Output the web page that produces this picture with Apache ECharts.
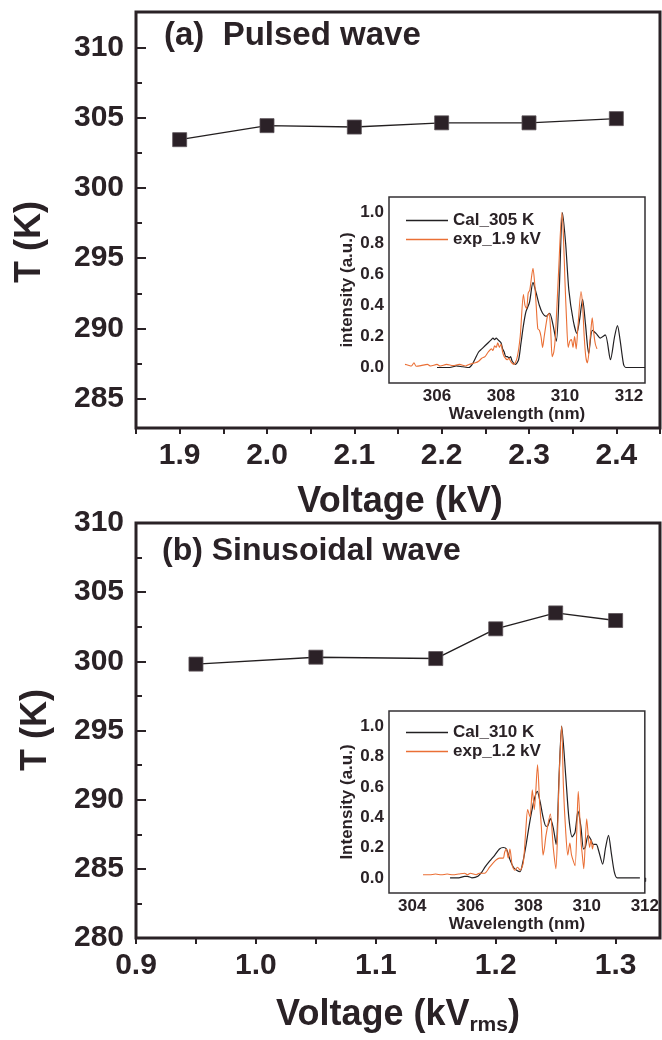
<!DOCTYPE html>
<html>
<head>
<meta charset="utf-8">
<script src="https://cdn.jsdelivr.net/npm/echarts@6/dist/echarts.min.js"></script>
<style>
  html, body { margin: 0; padding: 0; background: #fff; }
  #chart { width: 662px; height: 1040px; }
</style>
</head>
<body>
<div id="chart"></div>
<script>
// ---- Panel (a): pulsed wave, rotational temperature vs voltage ----
const voltA = [1.9, 2.0, 2.1, 2.2, 2.3, 2.4];
const tempA = [303.45, 304.45, 304.35, 304.65, 304.65, 304.95];
const xLabelsA = [1.9, 2.0, 2.1, 2.2, 2.3, 2.4];
const xTicksA = [1.85, 1.9, 1.95, 2.0, 2.05, 2.1, 2.15, 2.2, 2.25, 2.3, 2.35, 2.4, 2.45];
const yLabelsA = [285, 290, 295, 300, 305, 310];
const yMinorA = [287.5, 292.5, 297.5, 302.5, 307.5];

// ---- Panel (b): sinusoidal wave ----
const voltB = [0.95, 1.05, 1.15, 1.2, 1.25, 1.3];
const tempB = [299.8, 300.3, 300.2, 302.35, 303.5, 302.95];
const xLabelsB = [0.9, 1.0, 1.1, 1.2, 1.3];
const xTicksB = [0.9, 0.95, 1.0, 1.05, 1.1, 1.15, 1.2, 1.25, 1.3];
const yLabelsB = [280, 285, 290, 295, 300, 305, 310];
const yMinorB = [282.5, 287.5, 292.5, 297.5, 302.5, 307.5];

// ---- Inset spectra (wavelength nm, normalised intensity) ----
const calA = [[306.0,0],[306.4,0],[306.6,0.01],[306.8,0.005],[307.0,0],[307.1,0.02],[307.2,0.06],[307.3,0.1],[307.4,0.12],[307.5,0.14],[307.6,0.16],[307.7,0.18],[307.75,0.19],[307.8,0.18],[307.85,0.19],[307.9,0.18],[308.0,0.16],[308.05,0.12],[308.1,0.1],[308.15,0.07],[308.2,0.07],[308.25,0.06],[308.3,0.07],[308.35,0.04],[308.45,0.02],[308.55,0.05],[308.62,0.15],[308.7,0.27],[308.78,0.36],[308.89,0.42],[309.0,0.55],[309.1,0.48],[309.2,0.4],[309.3,0.35],[309.41,0.33],[309.52,0.35],[309.62,0.28],[309.73,0.17],[309.82,0.5],[309.92,1.0],[310.02,0.8],[310.12,0.5],[310.26,0.3],[310.37,0.22],[310.45,0.3],[310.55,0.44],[310.64,0.28],[310.74,0.09],[310.85,0.24],[310.97,0.22],[311.1,0.19],[311.26,0.21],[311.42,0.05],[311.55,0.2],[311.64,0.27],[311.72,0.18],[311.83,0.02],[311.9,0],[312.5,0]];
const expA = [[305.0,0.02],[305.1,0.015],[305.2,0.01],[305.28,0.03],[305.35,0.008],[305.5,0.012],[305.7,0.02],[305.8,0.01],[306.0,0.02],[306.1,0.01],[306.3,0.02],[306.5,0.012],[306.7,0.02],[306.9,0.01],[307.0,0.02],[307.2,0.03],[307.3,0.04],[307.4,0.06],[307.5,0.07],[307.6,0.1],[307.7,0.12],[307.75,0.11],[307.8,0.14],[307.85,0.13],[307.9,0.16],[307.95,0.13],[308.0,0.15],[308.05,0.1],[308.1,0.07],[308.2,0.05],[308.25,0.06],[308.3,0.04],[308.4,0.02],[308.5,0.06],[308.6,0.2],[308.7,0.47],[308.75,0.4],[308.8,0.38],[308.85,0.48],[308.9,0.5],[309.0,0.64],[309.05,0.55],[309.1,0.4],[309.15,0.25],[309.2,0.24],[309.25,0.2],[309.3,0.13],[309.35,0.2],[309.45,0.33],[309.5,0.35],[309.55,0.25],[309.6,0.07],[309.65,0.1],[309.7,0.2],[309.8,0.62],[309.9,1.0],[309.95,0.85],[310.0,0.55],[310.05,0.3],[310.1,0.13],[310.15,0.17],[310.2,0.18],[310.25,0.13],[310.3,0.2],[310.35,0.12],[310.4,0.25],[310.5,0.49],[310.55,0.4],[310.6,0.2],[310.65,0.07],[310.7,0.03],[310.75,0.1],[310.8,0.22],[310.85,0.32],[310.9,0.22],[310.95,0.15],[311.0,0.12]];
const calB = [[305.3,0],[305.6,0],[305.8,0.01],[305.9,0.01],[306.05,0],[306.26,0.01],[306.4,0.04],[306.5,0.07],[306.66,0.11],[306.84,0.15],[307.0,0.19],[307.13,0.2],[307.24,0.19],[307.36,0.12],[307.48,0.07],[307.59,0.05],[307.71,0.04],[307.8,0.1],[307.9,0.2],[308.0,0.32],[308.1,0.43],[308.2,0.52],[308.3,0.57],[308.4,0.5],[308.5,0.4],[308.6,0.34],[308.65,0.34],[308.75,0.39],[308.85,0.33],[308.95,0.22],[309.05,0.67],[309.14,1.0],[309.28,0.67],[309.39,0.39],[309.5,0.27],[309.6,0.3],[309.7,0.44],[309.8,0.34],[309.89,0.19],[309.95,0.2],[310.05,0.28],[310.15,0.25],[310.22,0.22],[310.33,0.22],[310.41,0.18],[310.55,0.09],[310.65,0.2],[310.75,0.28],[310.85,0.16],[310.95,0.04],[311.05,0],[311.83,0]];
const expB = [[304.37,0.02],[304.6,0.02],[304.8,0.025],[305.0,0.02],[305.2,0.025],[305.4,0.02],[305.6,0.025],[305.8,0.03],[305.9,0.02],[306.0,0.03],[306.2,0.02],[306.3,0.03],[306.49,0.03],[306.66,0.07],[306.84,0.11],[307.0,0.13],[307.13,0.13],[307.18,0.17],[307.24,0.19],[307.3,0.13],[307.36,0.19],[307.44,0.08],[307.53,0.05],[307.62,0.07],[307.71,0.05],[307.82,0.1],[307.9,0.3],[307.97,0.45],[308.05,0.4],[308.13,0.58],[308.2,0.45],[308.31,0.745],[308.38,0.5],[308.44,0.34],[308.5,0.15],[308.55,0.2],[308.6,0.28],[308.75,0.42],[308.85,0.2],[308.94,0.06],[309.0,0.3],[309.05,0.65],[309.14,1.0],[309.2,0.6],[309.28,0.3],[309.35,0.15],[309.42,0.23],[309.48,0.15],[309.6,0.08],[309.71,0.57],[309.8,0.25],[309.85,0.15],[309.9,0.06],[310.0,0.39],[310.1,0.2],[310.15,0.25],[310.2,0.19],[310.23,0.22]];
const insetYLabels = [0, 0.2, 0.4, 0.6, 0.8, 1.0];
const insetYMinor = [0.1, 0.3, 0.5, 0.7, 0.9];
const insetXLabelsA = [306, 308, 310, 312];
const insetXMinorA = [305, 307, 309, 311];
const insetXLabelsB = [304, 306, 308, 310, 312];
const insetXMinorB = [305, 307, 309, 311];

const INK = '#2a2226';
const FRAME = '#333033';
const ORANGE = '#ea6f35';
const FONT = '"Liberation Sans", Arial, Helvetica, sans-serif';

const zip = (xs, ys) => xs.map((x, i) => [x, ys[i]]);

// value axis with custom tick / label positions
function axis(o) {
  return {
    type: 'value',
    gridIndex: o.grid,
    min: o.min,
    max: o.max,
    position: o.pos,
    name: o.name,
    nameLocation: 'middle',
    nameGap: o.nameGap,
    nameTextStyle: { fontFamily: FONT, fontWeight: 'bold', fontSize: 17, color: INK },
    axisLine: { show: false },
    splitLine: { show: false },
    axisTick: {
      show: !!o.ticks,
      inside: !!o.inside,
      length: o.len || 5,
      customValues: o.ticks,
      lineStyle: { color: o.tickColor || INK, width: o.tw || 2 }
    },
    axisLabel: {
      show: !!o.labels,
      customValues: o.labels,
      formatter: o.fmt,
      margin: o.margin,
      fontFamily: FONT,
      fontWeight: 'bold',
      fontSize: o.fs,
      color: INK
    }
  };
}

const f1 = v => v.toFixed(1);
const f0 = v => String(Math.round(v));

const xAxes = [
  // main (a)
  axis({ grid: 0, min: 1.85, max: 2.45, pos: 'bottom', ticks: xTicksA, len: 6, tw: 2, labels: xLabelsA, fmt: f1, fs: 30, margin: 13 }),
  // main (b)
  axis({ grid: 1, min: 0.9, max: 1.337, pos: 'bottom', ticks: xTicksB, len: 6, tw: 2, labels: xLabelsB, fmt: f1, fs: 30, margin: 13 }),
  // inset (a)
  axis({ grid: 2, min: 304.5, max: 312.5, pos: 'bottom', ticks: insetXLabelsA, len: 4, tw: 1.2, tickColor: FRAME, labels: insetXLabelsA, fmt: f0, fs: 17, margin: 5, name: 'Wavelength (nm)', nameGap: 22 }),
  axis({ grid: 2, min: 304.5, max: 312.5, pos: 'bottom', ticks: insetXMinorA, len: 2.5, tw: 1.2, tickColor: FRAME }),
  axis({ grid: 2, min: 304.5, max: 312.5, pos: 'top', ticks: insetXLabelsA.concat(insetXMinorA), inside: true, len: 3, tw: 1.2, tickColor: FRAME }),
  // inset (b)
  axis({ grid: 3, min: 303.2, max: 312, pos: 'bottom', ticks: insetXLabelsB, len: 4, tw: 1.2, tickColor: FRAME, labels: insetXLabelsB, fmt: f0, fs: 17, margin: 5, name: 'Wavelength (nm)', nameGap: 22 }),
  axis({ grid: 3, min: 303.2, max: 312, pos: 'bottom', ticks: insetXMinorB, len: 2.5, tw: 1.2, tickColor: FRAME }),
  axis({ grid: 3, min: 303.2, max: 312, pos: 'top', ticks: insetXLabelsB.concat(insetXMinorB), inside: true, len: 3, tw: 1.2, tickColor: FRAME })
];

const yAxes = [
  // main (a)
  axis({ grid: 0, min: 282.9, max: 312.55, pos: 'left', ticks: yLabelsA, inside: true, len: 10, tw: 2, labels: yLabelsA, fmt: f0, fs: 30, margin: 12 }),
  axis({ grid: 0, min: 282.9, max: 312.55, pos: 'left', ticks: yMinorA, inside: true, len: 6, tw: 2 }),
  // main (b)
  axis({ grid: 1, min: 280, max: 310, pos: 'left', ticks: yLabelsB, inside: true, len: 10, tw: 2, labels: yLabelsB, fmt: f0, fs: 30, margin: 12 }),
  axis({ grid: 1, min: 280, max: 310, pos: 'left', ticks: yMinorB, inside: true, len: 6, tw: 2 }),
  // inset (a)
  axis({ grid: 2, min: -0.1, max: 1.1, pos: 'left', ticks: insetYLabels, inside: true, len: 4, tw: 1.2, tickColor: FRAME, labels: insetYLabels, fmt: f1, fs: 17, margin: 5, name: 'intensity (a.u.)', nameGap: 33 }),
  axis({ grid: 2, min: -0.1, max: 1.1, pos: 'left', ticks: insetYMinor, inside: true, len: 2.5, tw: 1.2, tickColor: FRAME }),
  axis({ grid: 2, min: -0.1, max: 1.1, pos: 'right', ticks: insetYLabels.concat(insetYMinor), inside: true, len: 3, tw: 1.2, tickColor: FRAME }),
  // inset (b)
  axis({ grid: 3, min: -0.1, max: 1.1, pos: 'left', ticks: insetYLabels, inside: true, len: 4, tw: 1.2, tickColor: FRAME, labels: insetYLabels, fmt: f1, fs: 17, margin: 5, name: 'Intensity (a.u.)', nameGap: 33 }),
  axis({ grid: 3, min: -0.1, max: 1.1, pos: 'left', ticks: insetYMinor, inside: true, len: 2.5, tw: 1.2, tickColor: FRAME }),
  axis({ grid: 3, min: -0.1, max: 1.1, pos: 'right', ticks: insetYLabels.concat(insetYMinor), inside: true, len: 3, tw: 1.2, tickColor: FRAME })
];

function tempSeries(name, xi, yi, data) {
  return {
    name, type: 'line', xAxisIndex: xi, yAxisIndex: yi, data,
    symbol: 'rect', symbolSize: 14,
    itemStyle: { color: '#2b2127', borderColor: '#5a5257', borderWidth: 0.8 },
    lineStyle: { color: '#231f20', width: 1.4 },
    z: 3
  };
}
function specSeries(name, xi, yi, data, color, width) {
  return {
    name, type: 'line', xAxisIndex: xi, yAxisIndex: yi, data,
    showSymbol: false, symbol: 'none', smooth: 0.25,
    itemStyle: { color },
    lineStyle: { color, width },
    z: 3
  };
}

function legend(names, top) {
  return {
    data: names, orient: 'vertical', left: 401, top,
    icon: 'rect', itemWidth: 42, itemHeight: 1.6, itemGap: 2,
    selectedMode: false,
    textStyle: { fontFamily: FONT, fontWeight: 'bold', fontSize: 17, color: INK }
  };
}

function label(text, x, y, size, align, rot) {
  return {
    type: 'text', x, y, rotation: rot || 0, z: 10,
    style: {
      text, fill: INK, align, verticalAlign: 'middle',
      font: 'bold ' + size + 'px ' + FONT
    }
  };
}

const option = {
  animation: false,
  backgroundColor: '#fff',
  grid: [
    { left: 136, top: 12, width: 524, height: 416, show: true, borderWidth: 3, borderColor: INK, backgroundColor: '#fff' },
    { left: 136, top: 523, width: 524, height: 415, show: true, borderWidth: 3, borderColor: INK, backgroundColor: '#fff' },
    { left: 389, top: 197, width: 256, height: 186, show: true, borderWidth: 1.5, borderColor: FRAME, backgroundColor: '#fff', z: 1 },
    { left: 389, top: 711, width: 256, height: 182, show: true, borderWidth: 1.5, borderColor: FRAME, backgroundColor: '#fff', z: 1 }
  ],
  xAxis: xAxes,
  yAxis: yAxes,
  legend: [
    legend(['Cal_305 K', 'exp_1.9 kV'], 207),
    legend(['Cal_310 K', 'exp_1.2 kV'], 719)
  ],
  series: [
    tempSeries('Pulsed wave', 0, 0, zip(voltA, tempA)),
    tempSeries('Sinusoidal wave', 1, 2, zip(voltB, tempB)),
    specSeries('Cal_305 K', 2, 4, calA, '#222022', 1.2),
    specSeries('exp_1.9 kV', 2, 4, expA, ORANGE, 1.1),
    specSeries('Cal_310 K', 5, 7, calB, '#222022', 1.2),
    specSeries('exp_1.2 kV', 5, 7, expB, ORANGE, 1.1)
  ],
  graphic: [
    label('(a)  Pulsed wave', 164, 36, 33, 'left'),
    label('(b) Sinusoidal wave', 162, 551, 32, 'left'),
    label('T (K)', 30, 242, 36, 'center', Math.PI / 2),
    label('T (K)', 36, 730, 36, 'center', Math.PI / 2),
    label('Voltage (kV)', 400, 502, 36, 'center'),
    {
      type: 'text', x: 398, y: 1015, z: 10,
      style: {
        text: '{a|Voltage (kV}{s|rms}{a|)}',
        align: 'center', verticalAlign: 'middle',
        rich: {
          a: { fontFamily: FONT, fontWeight: 'bold', fontSize: 36, fill: INK, lineHeight: 42 },
          s: { fontFamily: FONT, fontWeight: 'bold', fontSize: 21, fill: INK, lineHeight: 12, verticalAlign: 'bottom' }
        }
      }
    }
  ]
};

const chart = echarts.init(document.getElementById('chart'), null, { renderer: 'canvas' });
chart.setOption(option);
</script>
</body>
</html>
